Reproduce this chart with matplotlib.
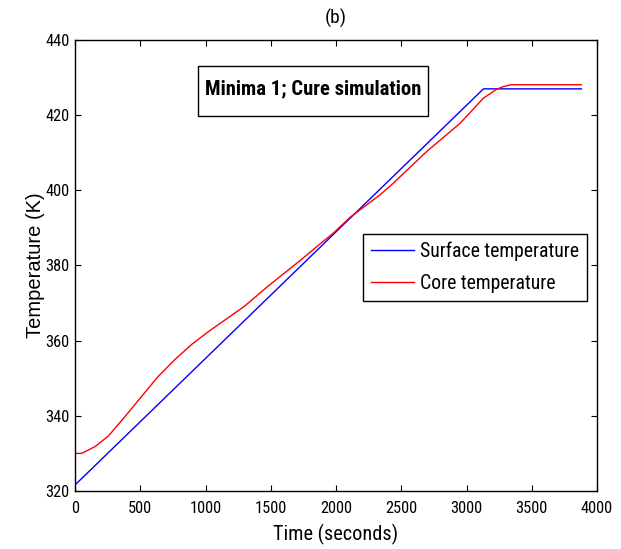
import matplotlib
matplotlib.use("Agg")
import matplotlib.pyplot as plt
from matplotlib import font_manager
from matplotlib.font_manager import FontProperties
from matplotlib.textpath import TextPath
from matplotlib.patches import Rectangle

# ---------------- Data ----------------
surface_t = [0, 3130, 3880]
surface_T = [321.6, 427.0, 427.0]

core_t = [0, 51, 153, 255, 383, 511, 638, 766, 894, 1022, 1149, 1300, 1469, 1724,
          1852, 1979, 2107, 2184, 2337, 2439, 2694, 2950, 3129, 3231, 3282, 3340, 3880]
core_T = [330.0, 330.0, 331.8, 334.6, 339.8, 345.2, 350.5, 355.0, 359.0, 362.4, 365.5,
          369.2, 374.2, 381.3, 385.0, 388.6, 392.8, 394.8, 398.8, 401.9, 410.3, 417.8,
          424.5, 426.9, 427.6, 428.1, 428.1]

xticks = [0, 500, 1000, 1500, 2000, 2500, 3000, 3500, 4000]
yticks = [320, 340, 360, 380, 400, 420, 440]
series_labels = ["Surface temperature", "Core temperature"]

# ---------------- Fonts: prefer a narrow/condensed sans ----------------
def find_font(bold):
    prefs = ["Liberation Sans Narrow", "Arial Narrow", "Roboto Condensed",
             "Open Sans Condensed", "Noto Sans Condensed", "DejaVu Sans Condensed",
             "DejaVuSansCondensed"]
    cands = []
    for f in font_manager.fontManager.ttflist:
        fn = f.fname.replace("\\", "/").split("/")[-1]
        key = f.name + " " + fn
        if "Italic" in key or "Oblique" in key:
            continue
        isbold = ("Bold" in fn) or (f.weight in ("bold", 700))
        if isbold != bold:
            continue
        if any(s in fn for s in ("SemiBold", "Semibold", "Light", "Thin", "Medium",
                                 "Black", "ExtraBold")):
            continue
        for i, p in enumerate(prefs):
            if p.replace(" ", "") in key.replace(" ", ""):
                cands.append((i, f.fname))
    if cands:
        cands.sort()
        return FontProperties(fname=cands[0][1])
    return FontProperties(family="Liberation Sans", weight="bold" if bold else "normal")

fp_reg = find_font(False)
fp_bold = find_font(True)
fp_plain = FontProperties(family="Liberation Sans")


def fit(text, fp, target_px, max_pt):
    w = TextPath((0, 0), text, size=10, prop=fp).get_extents().width
    wfit = 10 * target_px * 0.72 / w
    if wfit >= max_pt:
        return max_pt
    return (wfit * max_pt) ** 0.5


def sized(fp, size):
    p = fp.copy()
    p.set_size(size)
    return p


tick_size = fit("4000", fp_reg, 28, 13)
leg_size = fit("Surface temperature", fp_reg, 150, 15)
box_size = fit("Minima 1; Cure simulation", fp_bold, 213, 15)
xlab_size = fit("Time (seconds)", fp_reg, 119, 15)
title_size = fit("(b)", fp_reg, 20, 14)
ylab_size = fit("Temperature (K)", fp_plain, 150, 14.5)

W, H = 621, 549
fig = plt.figure(figsize=(W / 100, H / 100), dpi=100)
ax = fig.add_axes([75 / W, 1 - 491 / H, (597 - 75) / W, (491 - 40) / H])

ax.plot(surface_t, surface_T, color="#0000ff", lw=1.0, label=series_labels[0])
ax.plot(core_t, core_T, color="#ff0000", lw=1.0, label=series_labels[1])

ax.set_xlim(0, 4000)
ax.set_ylim(320, 440)
ax.set_xticks(xticks)
ax.set_yticks(yticks)
ax.set_xticklabels([str(v) for v in xticks])
ax.set_yticklabels([str(v) for v in yticks])
ax.tick_params(direction="in", length=4, width=0.8, top=True, right=True)
ax.tick_params(axis="x", pad=7)
ax.tick_params(axis="y", pad=4)
for lab in ax.get_xticklabels() + ax.get_yticklabels():
    lab.set_fontproperties(sized(fp_reg, tick_size))
for s in ax.spines.values():
    s.set_linewidth(1.0)

ax.set_xlabel("Time (seconds)", fontproperties=sized(fp_reg, xlab_size), labelpad=6)
ax.set_ylabel("Temperature (K)", fontproperties=sized(fp_plain, ylab_size), labelpad=0)
ax.set_title("(b)", fontproperties=sized(fp_reg, title_size), pad=12)

# annotation box
def ax_xy(px, py):
    return ((px - 75) / 522, (491 - py) / 451)

x0, y0 = ax_xy(198, 116)
x1, y1 = ax_xy(428, 66)
ax.add_patch(Rectangle((x0, y0), x1 - x0, y1 - y0, transform=ax.transAxes,
                       fc="white", ec="black", lw=1.0, zorder=5))
tx, ty = ax_xy(313, 89)
ax.text(tx, ty, "Minima 1; Cure simulation", transform=ax.transAxes,
        ha="center", va="center", fontproperties=sized(fp_bold, box_size), zorder=6)

# legend
lx, ly = ax_xy(363, 234)
leg = ax.legend(loc="upper left", bbox_to_anchor=(lx, ly),
                prop=sized(fp_reg, leg_size), frameon=True, fancybox=False,
                edgecolor="black", framealpha=1, borderpad=0.4,
                handlelength=2.2, handletextpad=0.3, labelspacing=0.62,
                borderaxespad=0)
leg.get_frame().set_linewidth(1.0)

fig.savefig("out.png", dpi=100)
